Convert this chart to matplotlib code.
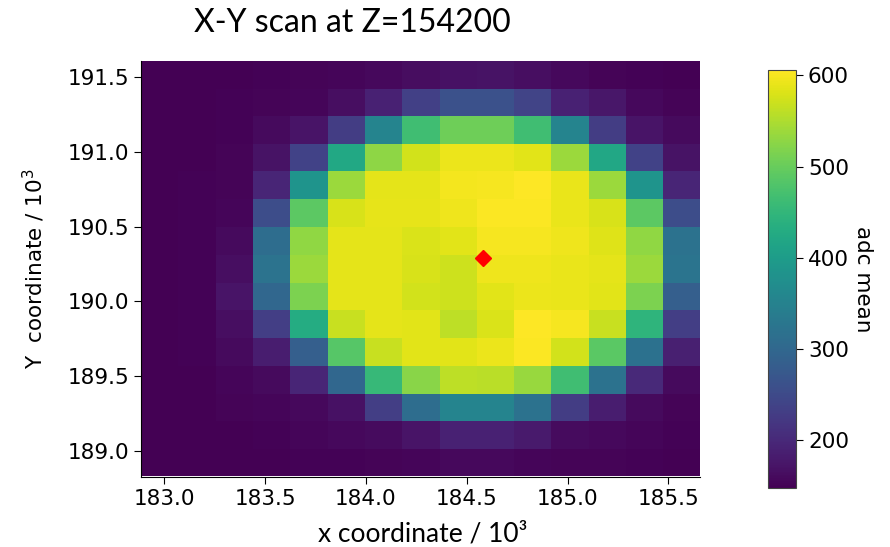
import numpy as np
import matplotlib
matplotlib.use("Agg")
import matplotlib.pyplot as plt

# Cell centre coordinates (x / 10^3, y / 10^3)
x_centers = [182.98, 183.16, 183.35, 183.53, 183.72, 183.90, 184.09, 184.27,
             184.46, 184.64, 184.83, 185.01, 185.20, 185.38, 185.57]
y_centers = [191.52, 191.33, 191.15, 190.96, 190.78, 190.59, 190.40, 190.22,
             190.03, 189.85, 189.66, 189.47, 189.29, 189.10, 188.92]

# adc mean values, rows from top (high y) to bottom
adc = [
    [148, 148, 149, 150, 153, 155, 158, 163, 168, 170, 165, 158, 153, 150, 149],
    [148, 148, 150, 152, 155, 165, 190, 235, 262, 262, 240, 190, 175, 158, 152],
    [148, 148, 150, 160, 172, 230, 355, 465, 505, 505, 465, 355, 230, 172, 160],
    [148, 149, 152, 170, 238, 423, 528, 575, 592, 592, 585, 538, 420, 238, 170],
    [148, 150, 153, 195, 385, 538, 587, 588, 598, 600, 605, 590, 538, 385, 195],
    [148, 150, 155, 255, 490, 578, 589, 589, 594, 603, 603, 590, 578, 490, 255],
    [148, 150, 160, 310, 530, 588, 587, 580, 585, 600, 600, 594, 583, 530, 320],
    [148, 150, 165, 322, 538, 588, 587, 578, 572, 594, 595, 590, 587, 538, 325],
    [148, 150, 172, 300, 515, 588, 587, 575, 572, 585, 592, 590, 585, 515, 285],
    [148, 150, 165, 232, 430, 567, 588, 585, 560, 580, 606, 600, 567, 445, 232],
    [148, 150, 160, 185, 285, 485, 568, 585, 585, 592, 603, 575, 488, 318, 188],
    [148, 149, 155, 160, 195, 300, 455, 525, 560, 558, 535, 465, 320, 200, 160],
    [148, 148, 152, 154, 158, 168, 232, 310, 355, 355, 320, 230, 185, 160, 153],
    [148, 148, 148, 151, 154, 157, 162, 172, 190, 190, 180, 162, 158, 155, 150],
    [148, 148, 148, 149, 150, 150, 152, 155, 157, 157, 155, 152, 152, 150, 148],
]

marker_x = [184.58]
marker_y = [190.29]

title_text = "X-Y scan at Z=154200"
xlabel_text = "x coordinate / 10\u00b3"
ylabel_text = "Y  coordinate / 10$^3$"
cbar_label = "adc mean"
xticks = [183.0, 183.5, 184.0, 184.5, 185.0, 185.5]
yticks = [189.0, 189.5, 190.0, 190.5, 191.0, 191.5]
cticks = [200, 300, 400, 500, 600]

fig = plt.figure(figsize=(8.9, 5.47), dpi=100)
ax = fig.add_axes([0.1584, 0.128, 0.628, 0.7605])
cax = fig.add_axes([0.863, 0.108, 0.0315, 0.764])

mesh = ax.pcolormesh(x_centers, y_centers, np.array(adc), cmap="viridis",
                     shading="nearest")
ax.plot(marker_x, marker_y, marker="D", color="red", markersize=8,
        linestyle="none")

ax.set_xlim(182.884, 185.656)
ax.set_ylim(188.823, 191.61)
ax.set_xticks(xticks)
ax.set_yticks(yticks)
ax.tick_params(labelsize=15.5, length=5)
for s in ["top", "right"]:
    ax.spines[s].set_visible(False)

ax.set_ylabel(ylabel_text, fontsize=15.5)
ax.yaxis.set_label_coords(-0.168, 0.5)

fam = ["Lato", "DejaVu Sans"]
fig.text(0.4747, 0.0097, xlabel_text, ha="center", va="baseline",
         fontsize=19, family=fam)
fig.text(0.3957, 0.942, title_text, ha="center", va="baseline",
         fontsize=23, family=fam)

cb = fig.colorbar(mesh, cax=cax)
cb.set_ticks(cticks)
cb.ax.tick_params(labelsize=15.5, length=5)
cb.outline.set_edgecolor("#444444")
cb.set_label(cbar_label, rotation=270, fontsize=15.5, labelpad=17)

fig.savefig("out.png", dpi=100)
